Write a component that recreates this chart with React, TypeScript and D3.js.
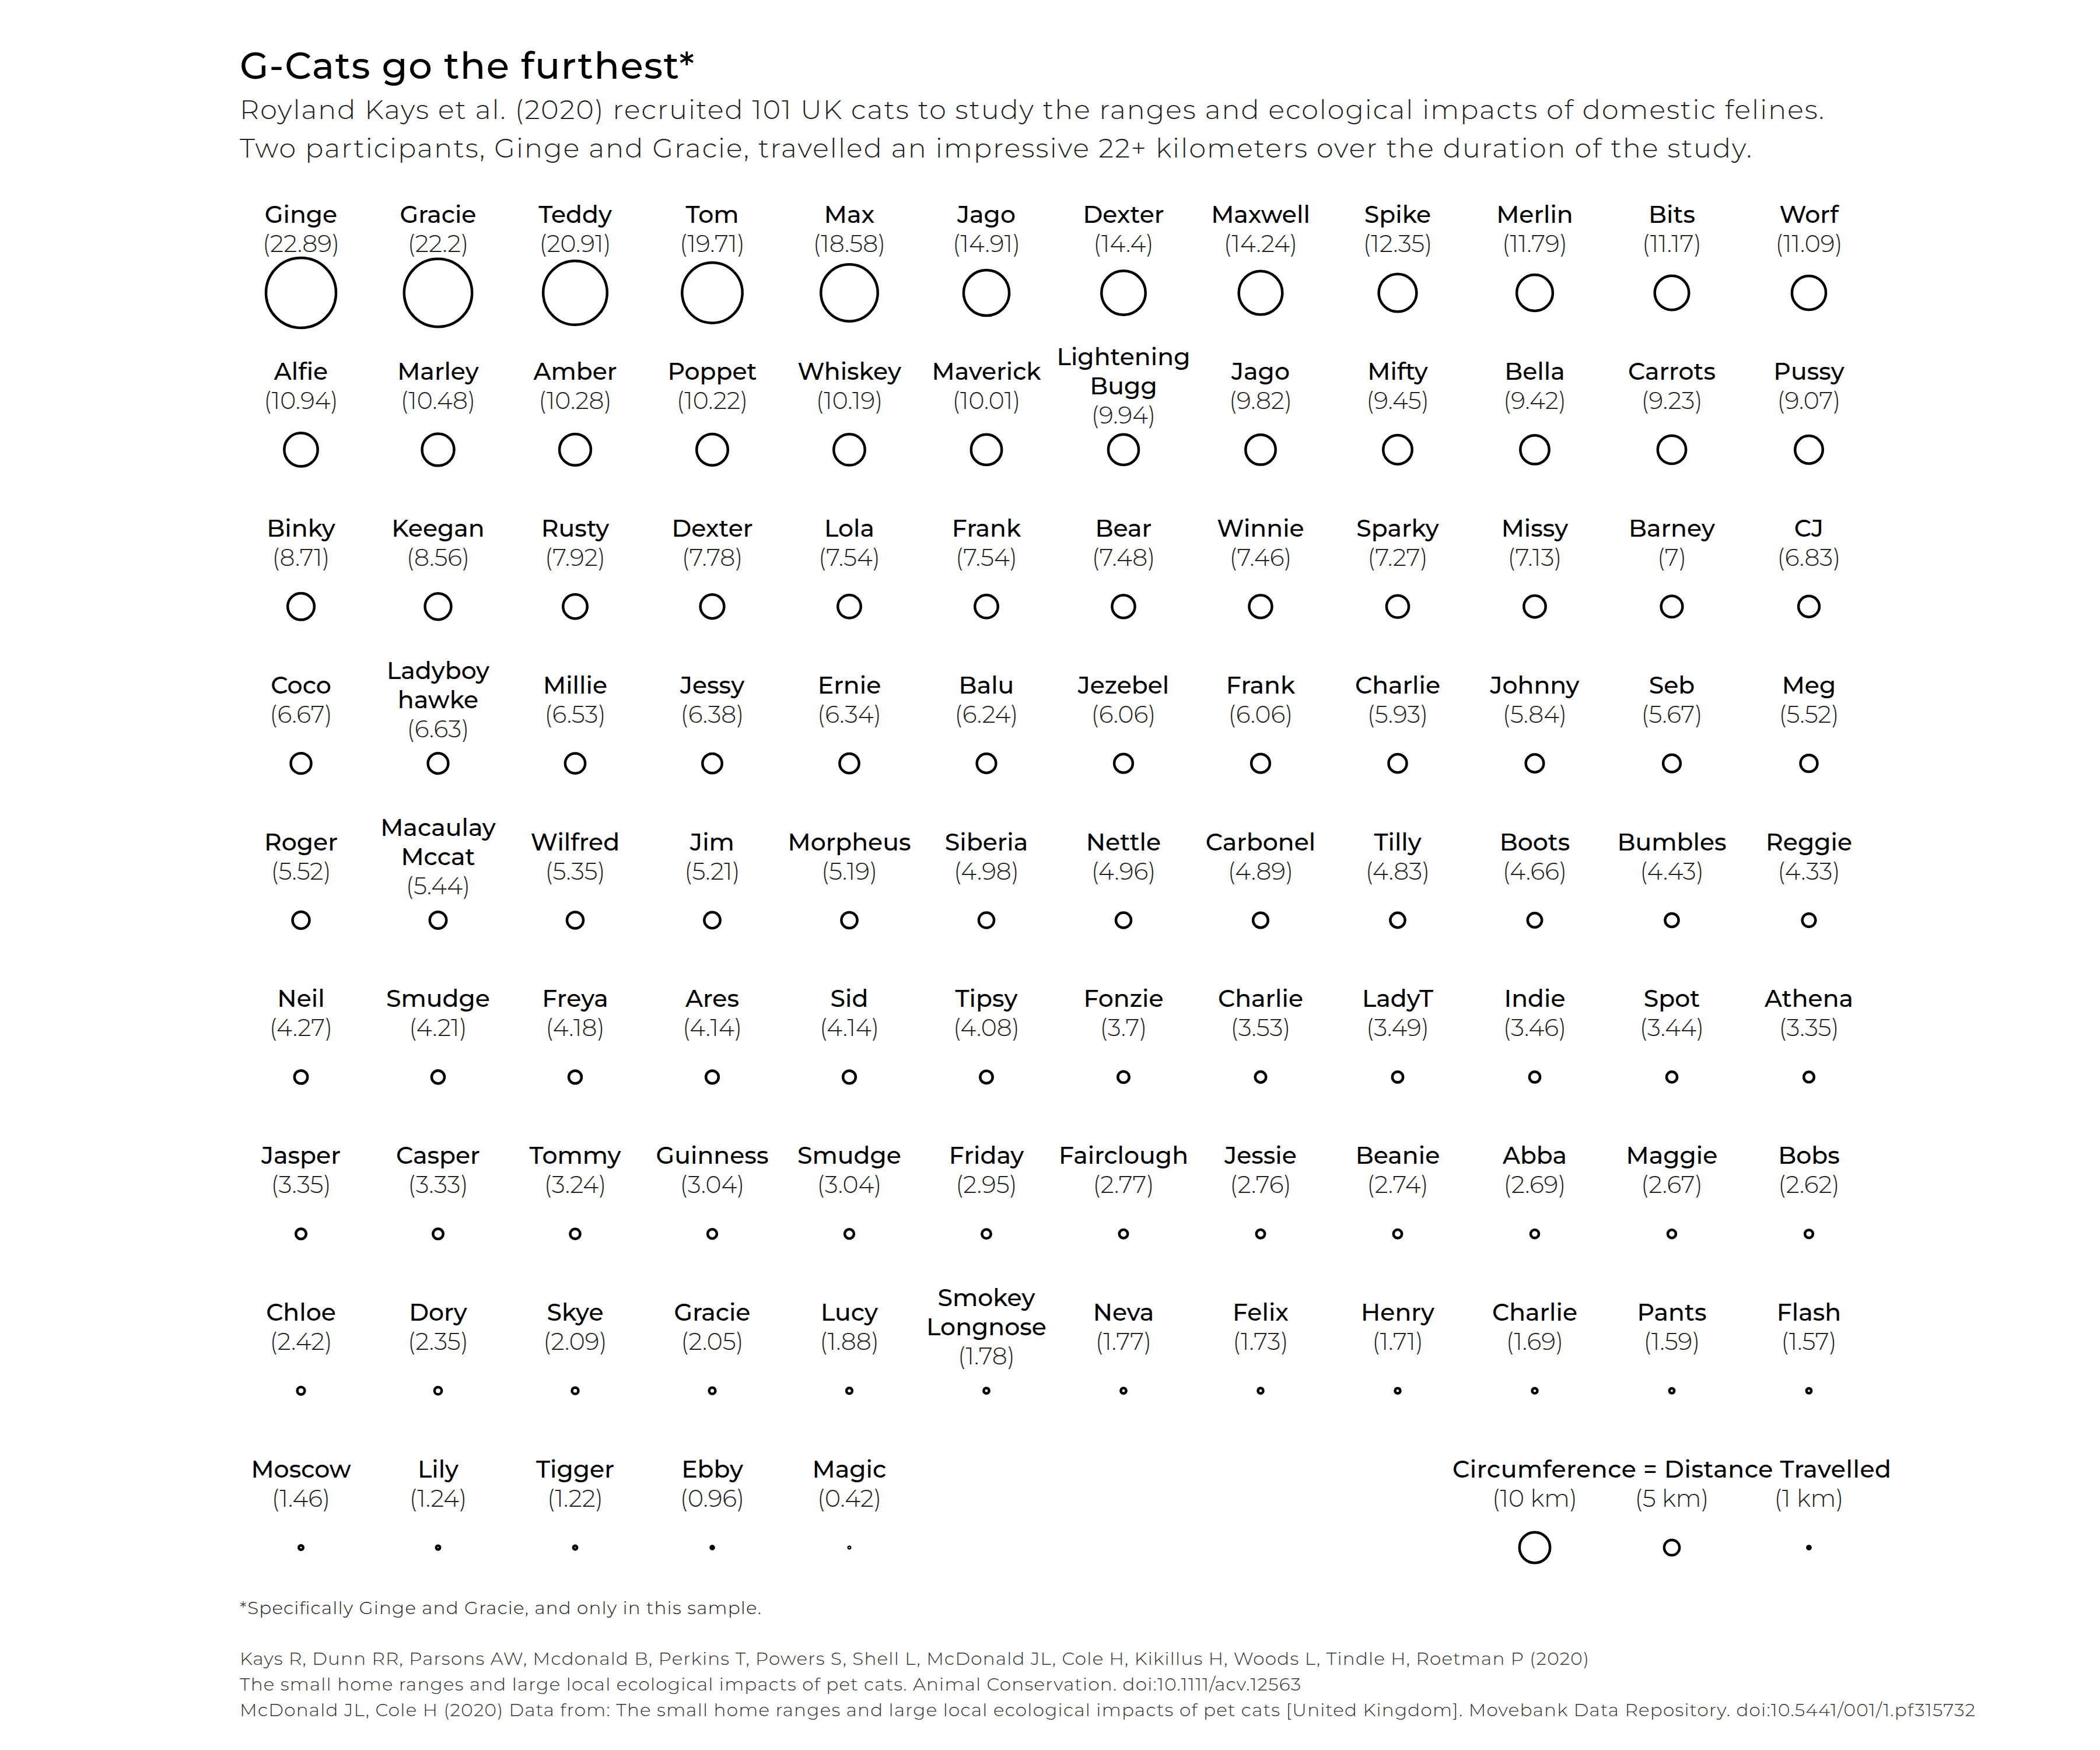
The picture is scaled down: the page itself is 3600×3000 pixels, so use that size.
import React from "react";
import * as d3 from "d3";

const names = ["Ginge","Gracie","Teddy","Tom","Max","Jago","Dexter","Maxwell","Spike","Merlin","Bits","Worf",
"Alfie","Marley","Amber","Poppet","Whiskey","Maverick","Lightening Bugg","Jago","Mifty","Bella","Carrots","Pussy",
"Binky","Keegan","Rusty","Dexter","Lola","Frank","Bear","Winnie","Sparky","Missy","Barney","CJ",
"Coco","Ladyboy hawke","Millie","Jessy","Ernie","Balu","Jezebel","Frank","Charlie","Johnny","Seb","Meg",
"Roger","Macaulay Mccat","Wilfred","Jim","Morpheus","Siberia","Nettle","Carbonel","Tilly","Boots","Bumbles","Reggie",
"Neil","Smudge","Freya","Ares","Sid","Tipsy","Fonzie","Charlie","LadyT","Indie","Spot","Athena",
"Jasper","Casper","Tommy","Guinness","Smudge","Friday","Fairclough","Jessie","Beanie","Abba","Maggie","Bobs",
"Chloe","Dory","Skye","Gracie","Lucy","Smokey Longnose","Neva","Felix","Henry","Charlie","Pants","Flash",
"Moscow","Lily","Tigger","Ebby","Magic"];
const distances = [22.89,22.2,20.91,19.71,18.58,14.91,14.4,14.24,12.35,11.79,11.17,11.09,
10.94,10.48,10.28,10.22,10.19,10.01,9.94,9.82,9.45,9.42,9.23,9.07,
8.71,8.56,7.92,7.78,7.54,7.54,7.48,7.46,7.27,7.13,7,6.83,
6.67,6.63,6.53,6.38,6.34,6.24,6.06,6.06,5.93,5.84,5.67,5.52,
5.52,5.44,5.35,5.21,5.19,4.98,4.96,4.89,4.83,4.66,4.43,4.33,
4.27,4.21,4.18,4.14,4.14,4.08,3.7,3.53,3.49,3.46,3.44,3.35,
3.35,3.33,3.24,3.04,3.04,2.95,2.77,2.76,2.74,2.69,2.67,2.62,
2.42,2.35,2.09,2.05,1.88,1.78,1.77,1.73,1.71,1.69,1.59,1.57,
1.46,1.24,1.22,0.96,0.42];
const legendValues = [10, 5, 1];
const legendLabels = ["(10 km)", "(5 km)", "(1 km)"];

const NCOL = 12;
const x = d3.scaleLinear().domain([0, 11]).range([508, 3093]);
const y = d3.scaleLinear().domain([0, 8]).range([374, 2525]);
const r = d3.scaleLinear().domain([0, 22.89]).range([0, 60]);
const font = "Montserrat, 'Open Sans', sans-serif";

export default function App() {
  return (
    <svg width={3600} height={3000} style={{ display: "block", background: "#fff" }} fontFamily={font}>
      <text x={403} y={127} fontSize={64} fontWeight={500} textLength={779} lengthAdjust="spacing">G-Cats go the furthest*</text>
      <text x={403} y={196} fontSize={46} fontWeight={300} fill="#222" textLength={2716} lengthAdjust="spacing">Royland Kays et al. (2020) recruited 101 UK cats to study the ranges and ecological impacts of domestic felines.</text>
      <text x={403} y={262} fontSize={46} fontWeight={300} fill="#222" textLength={2592} lengthAdjust="spacing">Two participants, Ginge and Gracie, travelled an impressive 22+ kilometers over the duration of the study.</text>
      {names.map((n, i) => {
        const c = i % NCOL, row = Math.floor(i / NCOL);
        const cx = x(c), by = y(row);
        const parts = n.includes(" ") ? n.split(" ") : [n];
        const off = parts.length > 1 ? -25 : 0;
        return (
          <g key={i}>
            {parts.map((p, k) => (
              <text key={k} x={cx} y={by + off + k * 50} textAnchor="middle" fontSize={41} fontWeight={500}>{p}</text>
            ))}
            <text x={cx} y={by + off + parts.length * 50} textAnchor="middle" fontSize={41} fontWeight={300} fill="#222">({distances[i]})</text>
            <circle cx={cx} cy={by + 120} r={Math.max(r(distances[i]), 1.2)} fill="none" stroke="#000" strokeWidth={4.5} />
          </g>
        );
      })}
      <text x={x(10)} y={y(8)} textAnchor="middle" fontSize={41} fontWeight={500} textLength={752} lengthAdjust="spacing">Circumference = Distance Travelled</text>
      {legendValues.map((v, i) => (
        <g key={i}>
          <text x={x(9 + i)} y={y(8) + 50} textAnchor="middle" fontSize={41} fontWeight={300} fill="#222">{legendLabels[i]}</text>
          <circle cx={x(9 + i)} cy={y(8) + 120} r={r(v)} fill="none" stroke="#000" strokeWidth={4.5} />
        </g>
      ))}
      <text x={403} y={2759} fontSize={31} fontWeight={300} fill="#222" textLength={894} lengthAdjust="spacing">*Specifically Ginge and Gracie, and only in this sample.</text>
      <text x={403} y={2846} fontSize={31} fontWeight={300} fill="#333" textLength={2313} lengthAdjust="spacing">Kays R, Dunn RR, Parsons AW, Mcdonald B, Perkins T, Powers S, Shell L, McDonald JL, Cole H, Kikillus H, Woods L, Tindle H, Roetman P (2020)</text>
      <text x={403} y={2890} fontSize={31} fontWeight={300} fill="#333" textLength={1819} lengthAdjust="spacing">The small home ranges and large local ecological impacts of pet cats. Animal Conservation. doi:10.1111/acv.12563</text>
      <text x={403} y={2934} fontSize={31} fontWeight={300} fill="#333" textLength={2975} lengthAdjust="spacing">McDonald JL, Cole H (2020) Data from: The small home ranges and large local ecological impacts of pet cats [United Kingdom]. Movebank Data Repository. doi:10.5441/001/1.pf315732</text>
    </svg>
  );
}
